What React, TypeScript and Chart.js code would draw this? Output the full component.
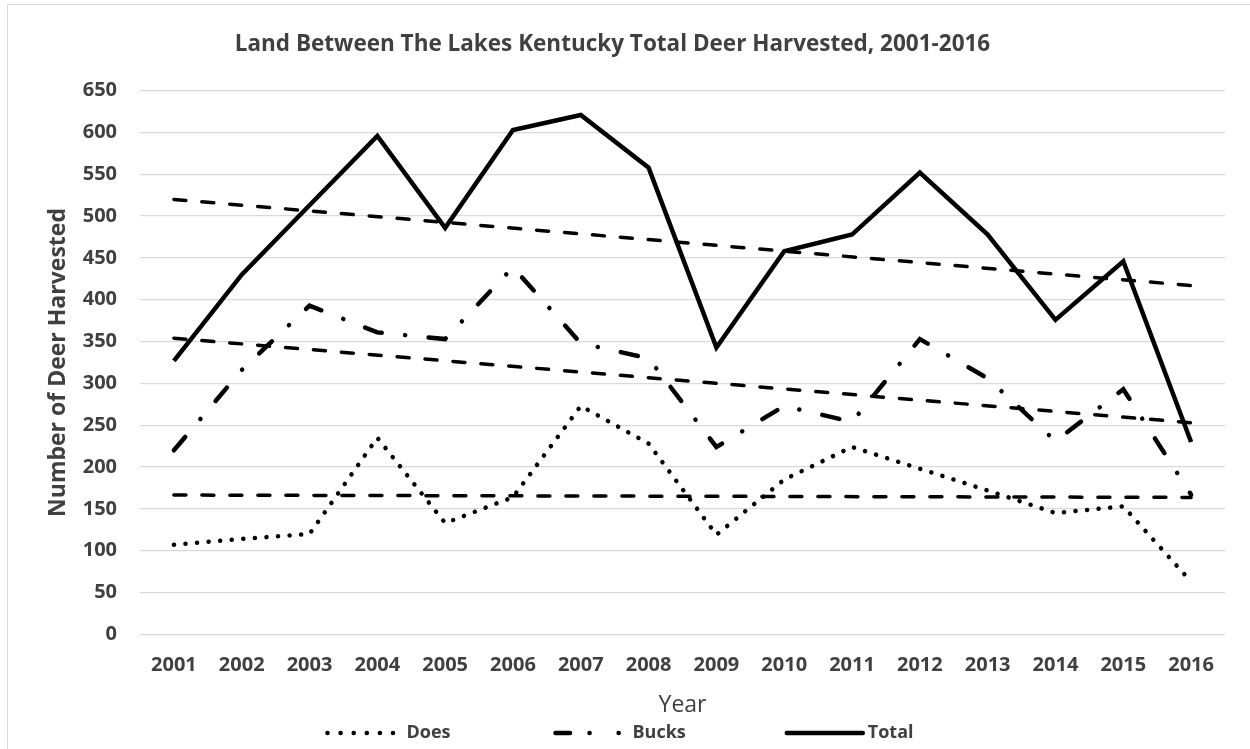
import React, { useEffect, useRef } from "react";
import { Chart, registerables } from "chart.js";

Chart.register(...registerables);

// ---- data ----
const years = ["2001", "2002", "2003", "2004", "2005", "2006", "2007", "2008", "2009", "2010", "2011", "2012", "2013", "2014", "2015", "2016"];
const does = [107, 114, 120, 235, 133, 164, 273, 228, 119, 185, 224, 198, 172, 145, 153, 63];
const bucks = [220, 316, 393, 361, 353, 439, 348, 330, 224, 273, 254, 353, 306, 231, 293, 167];
const total = [327, 430, 513, 596, 486, 603, 621, 558, 343, 458, 478, 552, 478, 376, 446, 230];
// linear trend lines, start (2001) and end (2016) values
const doesTrend = [166.5, null, null, null, null, null, null, null, null, null, null, null, null, null, null, 163.7];
const bucksTrend = [354, null, null, null, null, null, null, null, null, null, null, null, null, null, null, 253];
const totalTrend = [520, null, null, null, null, null, null, null, null, null, null, null, null, null, null, 417];
const yMin = 0;
const yMax = 650;
const yStep = 50;

const TITLE = "Land Between The Lakes Kentucky Total Deer Harvested, 2001-2016";
const Y_TITLE = "Number of Deer Harvested";
const X_TITLE = "Year";

const TEXT = "#404040";
const FONT = "'Open Sans', 'DejaVu Sans', sans-serif";

const DOES_DASH = [0.1, 11.5];
const BUCKS_DASH = [17.5, 23.5, 0.1, 23.5];
const TREND_DASH = [12, 16];

// legend sample styles (Excel-like)
const LEGEND_STYLE: Record<string, { dash: number[]; start: number; end: number; cap: CanvasLineCap; width: number }> = {
  Does: { dash: [0.1, 13], start: 3, end: 69, cap: "round", width: 4.5 },
  Bucks: { dash: [14.5, 19.5, 0.1, 29, 0.1, 60], start: 5, end: 72, cap: "round", width: 4.5 },
  Total: { dash: [], start: 1, end: 77, cap: "round", width: 4.5 },
};

const legendPlugin = {
  id: "excelLegend",
  afterDraw(chart: any) {
    const ctx: CanvasRenderingContext2D = chart.ctx;
    const items = chart.data.datasets.filter((d: any) => d.inLegend);
    ctx.save();
    ctx.font = `bold 18px ${FONT}`;
    const sampleW = 78;
    const textGap = 4;
    const itemGap = 100;
    const widths = items.map((d: any) => sampleW + textGap + ctx.measureText(d.label).width);
    const totalW = widths.reduce((a: number, b: number) => a + b, 0) + itemGap * (items.length - 1);
    let x = 619 - totalW / 2;
    const y = 733;
    items.forEach((d: any, i: number) => {
      const st = LEGEND_STYLE[d.label];
      ctx.beginPath();
      ctx.setLineDash(st.dash);
      ctx.lineCap = st.cap;
      ctx.lineWidth = st.width;
      ctx.strokeStyle = d.borderColor;
      ctx.moveTo(x + st.start, y);
      ctx.lineTo(x + st.end, y);
      ctx.stroke();
      ctx.setLineDash([]);
      ctx.fillStyle = TEXT;
      ctx.textBaseline = "middle";
      ctx.textAlign = "left";
      ctx.fillText(d.label, x + sampleW + textGap, y);
      x += widths[i] + itemGap;
    });
    ctx.restore();
  },
};

export default function App() {
  const ref = useRef<HTMLCanvasElement>(null);

  useEffect(() => {
    document.body.style.margin = "0";
    document.body.style.overflow = "hidden";
    const canvas = ref.current;
    if (!canvas) return;
    const chart = new Chart(canvas, {
      type: "line",
      data: {
        labels: years,
        datasets: [
          {
            label: "Does",
            data: does,
            borderColor: "#000000",
            borderWidth: 4.5,
            borderDash: DOES_DASH,
            borderCapStyle: "round",
            pointRadius: 0,
            fill: false,
            tension: 0,
            inLegend: true,
          } as any,
          {
            label: "Bucks",
            data: bucks,
            borderColor: "#000000",
            borderWidth: 4.5,
            borderDash: BUCKS_DASH,
            borderCapStyle: "round",
            pointRadius: 0,
            fill: false,
            tension: 0,
            inLegend: true,
          } as any,
          {
            label: "Total",
            data: total,
            borderColor: "#000000",
            borderWidth: 4.5,
            pointRadius: 0,
            fill: false,
            tension: 0,
            inLegend: true,
          } as any,
          {
            label: "Linear (Does)",
            data: doesTrend,
            borderColor: "#000000",
            borderWidth: 3.5,
            borderDash: TREND_DASH,
            borderCapStyle: "round",
            pointRadius: 0,
            spanGaps: true,
            fill: false,
          } as any,
          {
            label: "Linear (Bucks)",
            data: bucksTrend,
            borderColor: "#000000",
            borderWidth: 3.5,
            borderDash: TREND_DASH,
            borderCapStyle: "round",
            pointRadius: 0,
            spanGaps: true,
            fill: false,
          } as any,
          {
            label: "Linear (Total)",
            data: totalTrend,
            borderColor: "#000000",
            borderWidth: 3.5,
            borderDash: TREND_DASH,
            borderCapStyle: "round",
            pointRadius: 0,
            spanGaps: true,
            fill: false,
          } as any,
        ],
      },
      options: {
        responsive: false,
        devicePixelRatio: 1,
        animation: false,
        events: [],
        layout: { padding: { left: 0, right: 25, top: 0, bottom: 0 } },
        plugins: {
          legend: { display: false },
          tooltip: { enabled: false },
          title: {
            display: true,
            text: TITLE,
            color: TEXT,
            font: { family: FONT, size: 22.5, weight: "bold" },
            padding: { top: 31.5, bottom: 32.2 },
          },
        },
        scales: {
          x: {
            type: "category",
            offset: true,
            grid: { display: false, drawTicks: false },
            border: { display: false },
            ticks: {
              color: TEXT,
              font: { family: FONT, size: 20, weight: "bold" },
              padding: 19,
              autoSkip: false,
              maxRotation: 0,
            },
            title: {
              display: true,
              text: X_TITLE,
              color: TEXT,
              font: { family: FONT, size: 23, weight: "normal" },
              padding: { top: 0, bottom: 30 },
            },
            afterFit: (s: any) => {
              s.height = 114.7;
            },
          },
          y: {
            min: yMin,
            max: yMax,
            grid: { color: "#d9d9d9", lineWidth: 1.3, drawTicks: false },
            border: { display: false },
            ticks: {
              stepSize: yStep,
              color: TEXT,
              font: { family: FONT, size: 20, weight: "bold" },
              padding: 23,
            },
            title: {
              display: true,
              text: Y_TITLE,
              color: TEXT,
              font: { family: FONT, size: 23, weight: "bold" },
              padding: { top: 44.2, bottom: 0 },
            },
            afterFit: (s: any) => {
              s.width = 140;
            },
          },
        },
      } as any,
      plugins: [legendPlugin],
    });
    return () => chart.destroy();
  }, []);

  return (
    <div style={{ position: "absolute", left: 0, top: 0, width: 1250, height: 749, background: "#ffffff", overflow: "hidden" }}>
      <div
        style={{
          position: "absolute",
          left: 7,
          top: 4,
          width: 1243,
          height: 745,
          borderLeft: "1px solid #d9d9d9",
          borderTop: "1px solid #d9d9d9",
          boxSizing: "border-box",
        }}
      />
      <canvas ref={ref} width={1250} height={749} style={{ position: "absolute", left: 0, top: 0, width: 1250, height: 749 }} />
    </div>
  );
}
